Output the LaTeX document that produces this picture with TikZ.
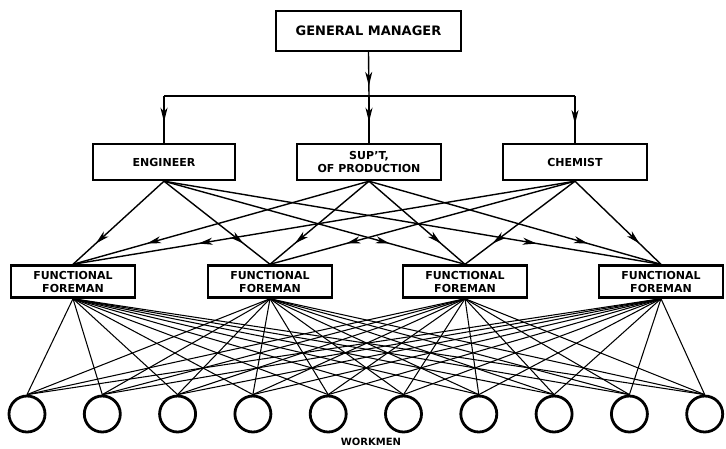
\documentclass[tikz,border=0pt]{standalone}
\usepackage{fontspec}
\setsansfont{DejaVu Sans}
\usetikzlibrary{arrows.meta,decorations.markings}
\tikzset{
  orgbox/.style={draw,rectangle,line width=2.4pt,inner sep=0pt,align=center,
    font=\sffamily\bfseries\fontsize{11}{13}\selectfont},
  wkr/.style={draw,circle,line width=2.8pt,minimum size=36pt,inner sep=0pt},
  tipat/.style={postaction={decorate},decoration={markings,
    mark=at position #1 with {\arrow{Stealth[length=14pt,width=7pt,inset=4pt]}}}},
  feed/.style={line width=1.4pt},
  wire/.style={line width=1.05pt}
}

\begin{document}
\begin{tikzpicture}[x=1pt,y=-1pt]
    \useasboundingbox (0,0) rectangle (726,448);
    \node[orgbox,minimum width=185pt,minimum height=40pt,
      font=\sffamily\bfseries\fontsize{13}{15}\selectfont] (gm) at (368.5,31) {GENERAL MANAGER};
    \node[orgbox,minimum width=142pt,minimum height=36pt] (eng) at (164,162) {ENGINEER};
    \node[orgbox,minimum width=144pt,minimum height=36pt] (sup) at (369,162) {SUP'T,\\OF PRODUCTION};
    \node[orgbox,minimum width=144pt,minimum height=36pt] (chem) at (575,162) {CHEMIST};
    \foreach \x [count=\i] in {73,270,465,661}
      \node[orgbox,minimum width=124pt,minimum height=32pt] (f\i) at (\x,281.5) {FUNCTIONAL\\FOREMAN};
    \foreach \i in {1,...,10}
      \node[wkr] (w\i) at ({27+75.3*(\i-1)},414) {};
    \node[font=\sffamily\bfseries\fontsize{10}{12}\selectfont] (lbl) at (371,442) {WORKMEN};
    % line of command
    \coordinate (bus) at (369,96);
    \coordinate (busl) at (164,96);
    \coordinate (busr) at (575,96);
    \draw[feed,tipat=0.77] (gm.south) -- (bus);
    \draw[feed] (busl) -- (busr);
    \draw[feed,tipat=0.55] (busl) -- (eng.north);
    \draw[feed,tipat=0.55] (bus) -- (sup.north);
    \draw[feed,tipat=0.6] (busr) -- (chem.north);
    \foreach \m in {eng,sup,chem}
      \foreach \i in {1,...,4}
        \draw[feed,tipat=0.75] (\m.south) -- (f\i.north);
    \foreach \i in {1,...,4}
      \foreach \j in {1,...,10}
        \draw[wire] (f\i.south) -- (w\j.north);
\end{tikzpicture}
\end{document}
